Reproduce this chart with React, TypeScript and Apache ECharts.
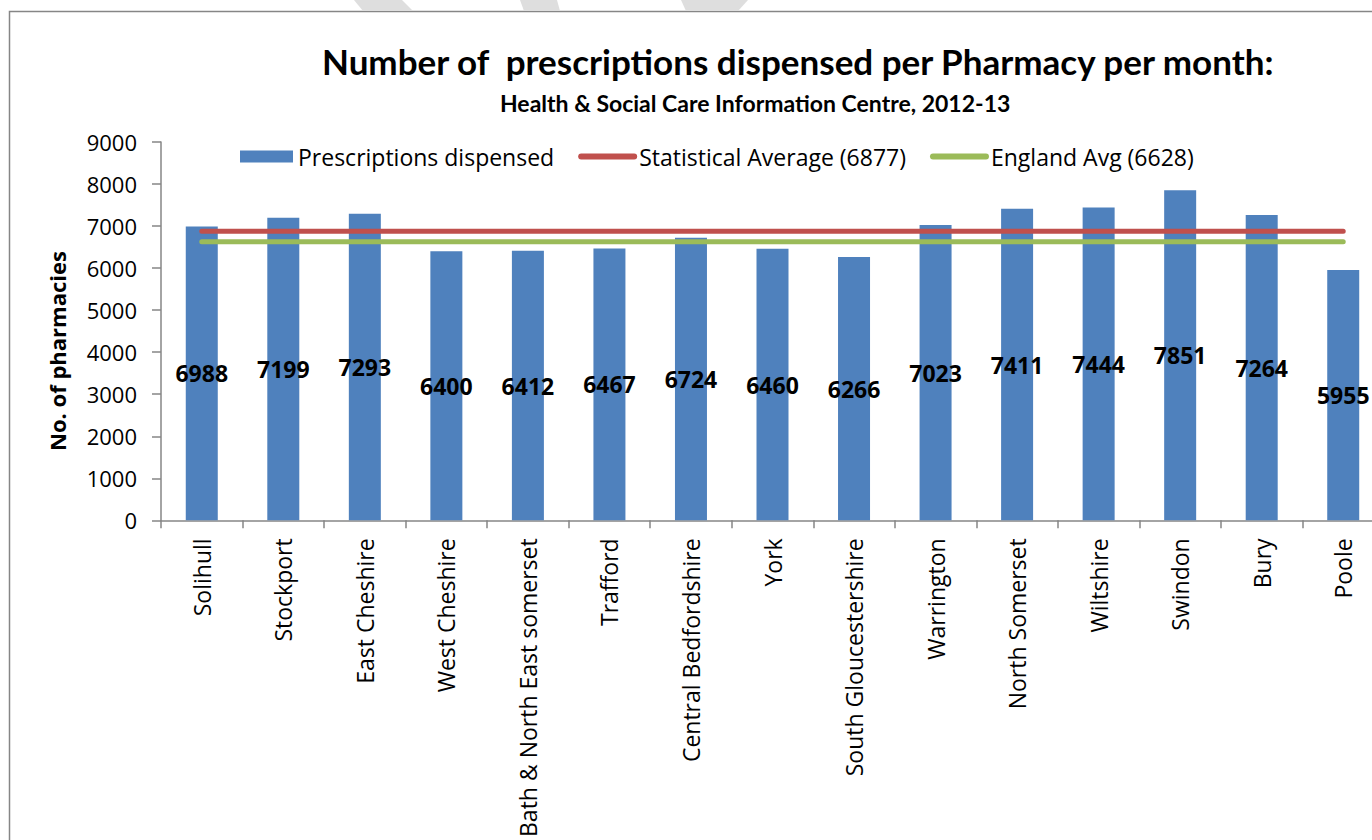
import React, { useEffect, useRef } from "react";
import * as echarts from "echarts";

const categories = [
  "Solihull",
  "Stockport",
  "East Cheshire",
  "West Cheshire",
  "Bath & North East somerset",
  "Trafford",
  "Central Bedfordshire",
  "York",
  "South Gloucestershire",
  "Warrington",
  "North Somerset",
  "Wiltshire",
  "Swindon",
  "Bury",
  "Poole",
];
const prescriptions = [6988, 7199, 7293, 6400, 6412, 6467, 6724, 6460, 6266, 7023, 7411, 7444, 7851, 7264, 5955];
const statisticalAverage = [6877, 6877, 6877, 6877, 6877, 6877, 6877, 6877, 6877, 6877, 6877, 6877, 6877, 6877, 6877];
const englandAverage = [6628, 6628, 6628, 6628, 6628, 6628, 6628, 6628, 6628, 6628, 6628, 6628, 6628, 6628, 6628];
const yTicks = { min: 0, max: 9000, interval: 1000 };

const FONT = "'Open Sans', sans-serif";
const TITLE_FONT = "Lato, 'Open Sans', sans-serif";
const CHART_W = 1400;

export default function App() {
  const ref = useRef<HTMLDivElement>(null);
  useEffect(() => {
    if (!ref.current) return;
    const chart = echarts.init(ref.current, null, { renderer: "svg" });
    chart.setOption({
      animation: false,
      backgroundColor: "#ffffff",
      textStyle: { fontFamily: FONT },
      title: [
        {
          text: "Number of  prescriptions dispensed per Pharmacy per month:",
          left: 317,
          top: 38,
          textStyle: { fontFamily: TITLE_FONT, fontWeight: "bold", fontSize: 35, color: "#000" },
        },
        {
          text: "Health & Social Care Information Centre, 2012-13",
          left: 495,
          top: 86,
          textStyle: { fontFamily: TITLE_FONT, fontWeight: "bold", fontSize: 23, color: "#000" },
        },
      ],
      legend: {
        left: 235,
        top: 140,
        itemWidth: 53,
        itemHeight: 12,
        itemGap: 24,
        textStyle: { fontFamily: FONT, fontSize: 23, color: "#000" },
        data: [
          { name: "Prescriptions dispensed", icon: "rect" },
          {
            name: "Statistical Average (6877)",
            itemStyle: { opacity: 0 },
            lineStyle: { width: 6, cap: "round" },
          },
          {
            name: "England Avg (6628)",
            itemStyle: { opacity: 0 },
            lineStyle: { width: 6, cap: "round" },
          },
        ],
      },
      grid: { left: 161, top: 142, bottom: 319, right: CHART_W - 1384, containLabel: false },
      xAxis: {
        type: "category",
        data: categories,
        boundaryGap: true,
        axisLine: { lineStyle: { color: "#868686", width: 1.5 } },
        axisTick: { show: true, length: 8, lineStyle: { color: "#868686", width: 1.5 } },
        axisLabel: {
          rotate: 90,
          interval: 0,
          margin: 18,
          fontFamily: FONT,
          fontSize: 23,
          color: "#000",
        },
      },
      yAxis: {
        type: "value",
        min: yTicks.min,
        max: yTicks.max,
        interval: yTicks.interval,
        splitLine: { show: false },
        axisLine: { show: true, lineStyle: { color: "#868686", width: 1.5 } },
        axisTick: { show: true, length: 9, lineStyle: { color: "#868686", width: 1.5 } },
        axisLabel: {
          margin: 24,
          fontFamily: FONT,
          fontSize: 22,
          color: "#000",
          formatter: (v: number) => String(v),
        },
      },
      graphic: [
        {
          type: "rect",
          shape: { x: 9.5, y: 11.5, width: 1440, height: 900 },
          style: { fill: "none", stroke: "#868686", lineWidth: 1.5 },
          silent: true,
        },
        {
          type: "polygon",
          shape: { points: [[354, 0], [402, 0], [413, 11], [363, 11]] },
          style: { fill: "#dedede" },
          silent: true,
        },
        {
          type: "polygon",
          shape: { points: [[520, 0], [557, 0], [560, 11], [524, 11]] },
          style: { fill: "#dedede" },
          silent: true,
        },
        {
          type: "polygon",
          shape: { points: [[681, 0], [748, 0], [738, 11], [686, 11]] },
          style: { fill: "#dedede" },
          silent: true,
        },
        {
          type: "text",
          x: 57,
          y: 351,
          rotation: Math.PI / 2,
          style: {
            text: "No. of pharmacies",
            fontFamily: FONT,
            fontWeight: "bold",
            fontSize: 22,
            fill: "#000",
            align: "center",
            verticalAlign: "middle",
          },
        },
      ],
      series: [
        {
          name: "Prescriptions dispensed",
          type: "bar",
          data: prescriptions,
          barWidth: 32,
          itemStyle: { color: "#4F81BD" },
          label: {
            show: true,
            position: "inside",
            fontFamily: FONT,
            fontWeight: "bold",
            fontSize: 23,
            color: "#000",
          },
        },
        {
          name: "Statistical Average (6877)",
          type: "line",
          data: statisticalAverage,
          symbol: "none",
          itemStyle: { color: "#C0504D" },
          lineStyle: { color: "#C0504D", width: 5, cap: "round" },
        },
        {
          name: "England Avg (6628)",
          type: "line",
          data: englandAverage,
          symbol: "none",
          itemStyle: { color: "#9BBB59" },
          lineStyle: { color: "#9BBB59", width: 5, cap: "round" },
        },
      ],
    });
    return () => chart.dispose();
  }, []);
  return (
    <div
      style={{
        position: "fixed",
        left: 0,
        top: 0,
        width: 1372,
        height: 840,
        overflow: "hidden",
        background: "#fff",
      }}
    >
      <div ref={ref} style={{ width: CHART_W, height: 840 }} />
    </div>
  );
}
